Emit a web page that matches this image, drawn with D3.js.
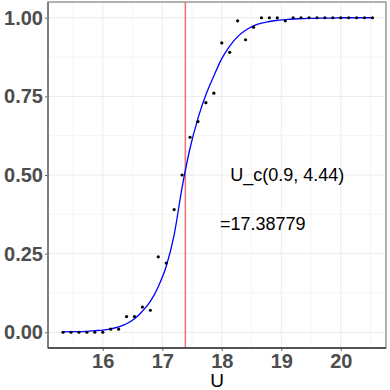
<!DOCTYPE html>
<html>
<head>
<meta charset="utf-8">
<script src="https://cdn.jsdelivr.net/npm/d3@7"></script>
<style>
  body { margin: 0; background: #fff; }
  svg { display: block; font-family: "Liberation Sans", Arial, sans-serif; }
</style>
</head>
<body>
<svg width="390" height="390"></svg>
<script>
// observed proportions at each U
var uValues = [15.333, 15.467, 15.6, 15.733, 15.867, 16.0, 16.133, 16.267, 16.4, 16.533,
  16.667, 16.8, 16.933, 17.067, 17.2, 17.333, 17.467, 17.6, 17.733, 17.867,
  18.0, 18.133, 18.267, 18.4, 18.533, 18.667, 18.8, 18.933, 19.067, 19.2,
  19.333, 19.467, 19.6, 19.733, 19.867, 20.0, 20.133, 20.267, 20.4, 20.533];
var observed = [0, 0, 0, 0, 0, 0, 0.01, 0.01, 0.05, 0.05,
  0.08, 0.07, 0.24, 0.22, 0.39, 0.5, 0.62, 0.67, 0.73, 0.76,
  0.92, 0.89, 0.99, 0.93, 0.97, 1, 1, 1, 0.99, 1,
  1, 1, 1, 1, 1, 1, 1, 1, 1, 1];
// fitted curve
var fitted = [0.001, 0.002, 0.002, 0.003, 0.005, 0.007, 0.011, 0.017, 0.027, 0.043,
  0.067, 0.098, 0.145, 0.21, 0.31, 0.46, 0.585, 0.68, 0.755, 0.815,
  0.87, 0.91, 0.94, 0.96, 0.974, 0.983, 0.988, 0.992, 0.994, 0.996,
  0.997, 0.998, 0.998, 0.999, 0.999, 1, 1, 1, 1, 1];
var uCritical = 17.38779;

var xTicks = [16, 17, 18, 19, 20];
var xMinor = [15.5, 16.5, 17.5, 18.5, 19.5, 20.5];
var yTicks = [0, 0.25, 0.5, 0.75, 1];
var yMinor = [0.125, 0.375, 0.625, 0.875];

var labels = [
  {u: 19.1, p: 0.5, text: "U_c(0.9, 4.44)"},
  {u: 18.69, p: 0.346, text: "=17.38779"}
];

var svg = d3.select("svg"),
    margin = {top: 2, right: 4, bottom: 42, left: 48},
    width = +svg.attr("width") - margin.left - margin.right,
    height = +svg.attr("height") - margin.top - margin.bottom;

var g = svg.append("g")
    .attr("transform", "translate(" + margin.left + "," + margin.top + ")");

var x = d3.scaleLinear()
    .domain([15.08, 20.76])
    .range([0, width]);

var y = d3.scaleLinear()
    .domain([-0.05, 1.05])
    .range([height, 0]);

// grid
g.selectAll(".minorx").data(xMinor).enter().append("line")
    .attr("x1", d => x(d)).attr("x2", d => x(d))
    .attr("y1", 0).attr("y2", height)
    .attr("stroke", "#f2f2f2").attr("stroke-width", 0.8);
g.selectAll(".minory").data(yMinor).enter().append("line")
    .attr("x1", 0).attr("x2", width)
    .attr("y1", d => y(d)).attr("y2", d => y(d))
    .attr("stroke", "#f2f2f2").attr("stroke-width", 0.8);
g.selectAll(".majorx").data(xTicks).enter().append("line")
    .attr("x1", d => x(d)).attr("x2", d => x(d))
    .attr("y1", 0).attr("y2", height)
    .attr("stroke", "#ebebeb").attr("stroke-width", 1);
g.selectAll(".majory").data(yTicks).enter().append("line")
    .attr("x1", 0).attr("x2", width)
    .attr("y1", d => y(d)).attr("y2", d => y(d))
    .attr("stroke", "#ebebeb").attr("stroke-width", 1);

// border
g.append("rect")
    .attr("width", width).attr("height", height)
    .attr("fill", "none").attr("stroke", "#999").attr("stroke-width", 1.5);

// critical value
g.append("line")
    .attr("x1", x(uCritical)).attr("x2", x(uCritical))
    .attr("y1", 0).attr("y2", height)
    .attr("stroke", "#f07272").attr("stroke-width", 1.5);

var data = uValues.map(function (u, i) {
  return {u: u, obs: observed[i], fit: fitted[i]};
});

var line = d3.line()
    .curve(d3.curveMonotoneX)
    .x(d => x(d.u))
    .y(d => y(d.fit));

g.append("path")
    .datum(data)
    .attr("fill", "none")
    .attr("stroke", "blue")
    .attr("stroke-width", 1.3)
    .attr("d", line);

g.selectAll(".dot").data(data).enter().append("circle")
    .attr("cx", d => x(d.u))
    .attr("cy", d => y(d.obs))
    .attr("r", 1.6)
    .attr("fill", "#000");

g.selectAll(".lab").data(labels).enter().append("text")
    .attr("x", d => x(d.u))
    .attr("y", d => y(d.p))
    .attr("dy", "0.35em")
    .attr("text-anchor", "middle")
    .attr("font-size", 18)
    .attr("fill", "#000")
    .text(d => d.text);

// axes
var xAxis = d3.axisBottom(x).tickValues(xTicks).tickSize(3).tickPadding(3)
    .tickFormat(d3.format("d"));
var yAxis = d3.axisLeft(y).tickValues(yTicks).tickSize(3).tickPadding(2)
    .tickFormat(d3.format(".2f"));

var xg = g.append("g")
    .attr("transform", "translate(0," + height + ")")
    .call(xAxis);
var yg = g.append("g").call(yAxis);

[xg, yg].forEach(function (ax) {
  ax.select(".domain").remove();
  ax.selectAll(".tick line").attr("stroke", "#666");
  ax.selectAll(".tick text")
      .attr("font-family", "Liberation Sans, Arial, sans-serif")
      .attr("font-size", 20)
      .attr("font-weight", "bold")
      .attr("fill", "#4d4d4d");
});

// axis lines
g.append("line")
    .attr("x1", 0).attr("x2", 0).attr("y1", 0).attr("y2", height)
    .attr("stroke", "#808080").attr("stroke-width", 2);
g.append("line")
    .attr("x1", 0).attr("x2", width).attr("y1", height).attr("y2", height)
    .attr("stroke", "#333").attr("stroke-width", 1.5);

svg.append("text")
    .attr("x", margin.left + width / 2)
    .attr("y", 387)
    .attr("text-anchor", "middle")
    .attr("font-size", 19)
    .attr("fill", "#000")
    .text("U");
</script>
</body>
</html>
